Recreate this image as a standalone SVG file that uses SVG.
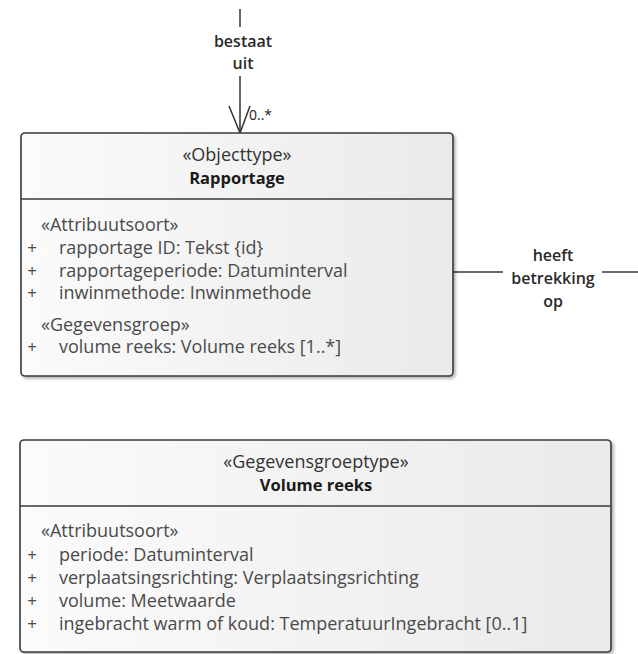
<svg xmlns="http://www.w3.org/2000/svg" width="638" height="654" viewBox="0 0 638 654">
  <style>
    .box { stroke: #3a3a3a; stroke-width: 1.6; fill: url(#fillGrad); filter: url(#shadow); }
    .div { stroke: #3a3a3a; stroke-width: 1.6; }
    .t { font-family: "Open Sans", "Noto Sans", sans-serif; font-size: 18px; fill: #4a4a4a; }
    .stereo { font-family: "Open Sans", "Noto Sans", sans-serif; font-size: 18px; fill: #333; text-anchor: middle; }
    .name { font-family: "Open Sans", "Noto Sans", sans-serif; font-size: 16.5px; font-weight: bold; fill: #1a1a1a; text-anchor: middle; }
    .plus { font-family: "Open Sans", "Noto Sans", sans-serif; font-size: 17px; fill: #4a4a4a; text-anchor: middle; }
    .lbl { font-family: "Open Sans", "Noto Sans", sans-serif; font-size: 16px; font-weight: 600; fill: #2a2a2a; text-anchor: middle; }
    .mult { font-family: "Open Sans", "Noto Sans", sans-serif; font-size: 14px; fill: #222; }
    .conn { stroke: #333; stroke-width: 1.5; fill: none; }
  </style>
  <defs>
    <linearGradient id="fillGrad" x1="0" y1="0" x2="1" y2="0">
      <stop offset="0" stop-color="#fbfbfb"/>
      <stop offset="1" stop-color="#eaeaea"/>
    </linearGradient>
    <filter id="shadow" x="-5%" y="-5%" width="112%" height="115%">
      <feDropShadow dx="2" dy="2" stdDeviation="1.5" flood-color="#000" flood-opacity="0.3"/>
    </filter>
  </defs>

  <g id="connectors">
    <line class="conn" x1="240" y1="9" x2="240" y2="27"/>
    <text class="lbl" x="243" y="47">bestaat</text>
    <text class="lbl" x="243" y="69">uit</text>
    <line class="conn" x1="240" y1="76" x2="240" y2="133"/>
    <polyline class="conn" points="229,106 240,133 250,106"/>
    <text class="mult" x="249" y="120">0..*</text>

    <line class="conn" x1="453" y1="272" x2="503" y2="272"/>
    <line class="conn" x1="602" y1="272" x2="638" y2="272"/>
    <text class="lbl" x="553" y="261">heeft</text>
    <text class="lbl" x="553" y="284">betrekking</text>
    <text class="lbl" x="553" y="307">op</text>
  </g>

  <g id="rapportage">
    <rect class="box" x="21" y="133" width="432" height="243" rx="4"/>
    <line class="div" x1="21" y1="199" x2="453" y2="199"/>
    <text class="stereo" x="237" y="161">«Objecttype»</text>
    <text class="name" x="237" y="184">Rapportage</text>
    <text class="t" x="41" y="231">«Attribuutsoort»</text>
    <text class="plus" x="32" y="254">+</text>
    <text class="t" x="59" y="254">rapportage ID: Tekst {id}</text>
    <text class="plus" x="32" y="277">+</text>
    <text class="t" x="59" y="277">rapportageperiode: Datuminterval</text>
    <text class="plus" x="32" y="299">+</text>
    <text class="t" x="59" y="299">inwinmethode: Inwinmethode</text>
    <text class="t" x="41" y="331">«Gegevensgroep»</text>
    <text class="plus" x="32" y="353">+</text>
    <text class="t" x="59" y="353">volume reeks: Volume reeks [1..*]</text>
  </g>

  <g id="volume-reeks">
    <rect class="box" x="20" y="440" width="591" height="212" rx="4"/>
    <line class="div" x1="20" y1="506" x2="611" y2="506"/>
    <text class="stereo" x="316" y="468">«Gegevensgroeptype»</text>
    <text class="name" x="316" y="491">Volume reeks</text>
    <text class="t" x="41" y="537">«Attribuutsoort»</text>
    <text class="plus" x="32" y="561">+</text>
    <text class="t" x="59" y="561">periode: Datuminterval</text>
    <text class="plus" x="32" y="584">+</text>
    <text class="t" x="59" y="584">verplaatsingsrichting: Verplaatsingsrichting</text>
    <text class="plus" x="32" y="607">+</text>
    <text class="t" x="59" y="607">volume: Meetwaarde</text>
    <text class="plus" x="32" y="630">+</text>
    <text class="t" x="59" y="630">ingebracht warm of koud: TemperatuurIngebracht [0..1]</text>
  </g>
</svg>
